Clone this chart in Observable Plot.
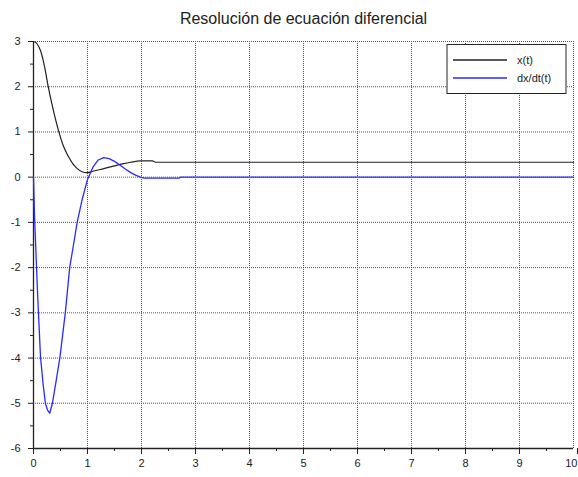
<!DOCTYPE html>
<html>
<head>
<meta charset="utf-8">
<script src="https://cdn.jsdelivr.net/npm/d3@7"></script>
<script src="https://cdn.jsdelivr.net/npm/@observablehq/plot@0.6"></script>
<style>
  html, body { margin: 0; padding: 0; background: white; }
</style>
</head>
<body>
<div id="chart"></div>
<script>
const titleText = "Resolución de ecuación diferencial";
const seriesNames = ["x(t)", "dx/dt(t)"];
const seriesColors = ["#222222", "#2a2aff"];

// x(t)
const xT = [0, 0.05, 0.1, 0.13, 0.2, 0.27, 0.35, 0.47, 0.55, 0.65, 0.72, 0.8, 0.9, 0.99, 1.1, 1.3, 1.5, 1.67, 1.8, 1.98, 2.2, 2.26, 10];
const xV = [3, 2.97, 2.88, 2.8, 2.47, 2.02, 1.57, 1.0, 0.7, 0.45, 0.31, 0.2, 0.12, 0.10, 0.13, 0.19, 0.25, 0.30, 0.33, 0.36, 0.36, 0.33, 0.33];

// dx/dt(t)
const dT = [0, 0.02, 0.05, 0.08, 0.13, 0.18, 0.22, 0.26, 0.3, 0.35, 0.42, 0.49, 0.59, 0.67, 0.74, 0.81, 0.9, 1.0, 1.1, 1.2, 1.3, 1.4, 1.5, 1.6, 1.7, 1.8, 1.9, 1.98, 2.05, 2.7, 2.72, 10];
const dV = [0, -0.9, -1.8, -2.7, -3.98, -4.6, -5.0, -5.15, -5.22, -5.0, -4.5, -3.98, -2.99, -2.0, -1.5, -0.99, -0.5, -0.05, 0.22, 0.38, 0.43, 0.41, 0.35, 0.27, 0.18, 0.1, 0.04, 0, -0.02, -0.02, 0, 0];

const xTicks = [0, 1, 2, 3, 4, 5, 6, 7, 8, 9, 10];
const yTicks = [-6, -5, -4, -3, -2, -1, 0, 1, 2, 3];
const xMinor = [0.5, 1.5, 2.5, 3.5, 4.5, 5.5, 6.5, 7.5, 8.5, 9.5];
const yMinor = [-5.5, -4.5, -3.5, -2.5, -1.5, -0.5, 0.5, 1.5, 2.5];

const xData = xT.map((t, i) => ({t, v: xV[i]}));
const dData = dT.map((t, i) => ({t, v: dV[i]}));

const gridStyle = {stroke: "#555", strokeOpacity: 1, strokeWidth: 1, strokeDasharray: "1,1"};
const fmt = d => String(d);
const xLast = xTicks[xTicks.length - 1];

const svg = Plot.plot({
  width: 578,
  height: 477,
  marginLeft: 33,
  marginRight: 5,
  marginTop: 41,
  marginBottom: 29,
  style: {fontFamily: "'Liberation Sans', Arial, sans-serif", fontSize: "11px", color: "#222", background: "white", overflow: "visible"},
  x: {domain: [0, 10]},
  y: {domain: [-6, 3]},
  marks: [
    Plot.gridX(xTicks, gridStyle),
    Plot.gridY(yTicks, gridStyle),
    Plot.axisX(xTicks.slice(0, -1), {tickSize: 6, tickPadding: 5, label: null, stroke: "#222", tickFormat: fmt}),
    Plot.axisX([xLast], {tickSize: 6, tickPadding: 5, label: null, stroke: "#222", tickFormat: fmt, textAnchor: "end", dx: 4}),
    Plot.axisX(xMinor, {tickSize: 3, tickFormat: () => "", label: null, stroke: "#222"}),
    Plot.axisY(yTicks, {tickSize: 5, tickPadding: 8, label: null, stroke: "#222", tickFormat: fmt}),
    Plot.axisY(yMinor, {tickSize: 3, tickFormat: () => "", label: null, stroke: "#222"}),
    Plot.ruleY([-6], {stroke: "#222", strokeWidth: 1.3}),
    Plot.ruleX([0], {stroke: "#222", strokeWidth: 1.3}),
    Plot.line(xData, {x: "t", y: "v", stroke: seriesColors[0], strokeWidth: 1.2, curve: "monotone-x"}),
    Plot.line(dData, {x: "t", y: "v", stroke: seriesColors[1], strokeWidth: 1.3}),
    Plot.text([titleText], {frameAnchor: "top", dy: -23, fontSize: 16, fill: "#222", lineAnchor: "middle"})
  ]
});

// legend box
const g = d3.select(svg).append("g").attr("text-anchor", "start");
g.append("rect").attr("x", 447).attr("y", 44.5).attr("width", 119).attr("height", 49)
  .attr("fill", "white").attr("stroke", "#222").attr("stroke-width", 1);
seriesNames.forEach((name, i) => {
  const yy = 60 + i * 18;
  g.append("line").attr("x1", 453).attr("x2", 507).attr("y1", yy).attr("y2", yy)
    .attr("stroke", seriesColors[i]).attr("stroke-width", 1.3);
  g.append("text").attr("x", 517).attr("y", yy).attr("dy", "0.35em")
    .attr("text-anchor", "start")
    .attr("font-size", 11).attr("fill", "#222").text(name);
});

document.getElementById("chart").appendChild(svg);
</script>
</body>
</html>
